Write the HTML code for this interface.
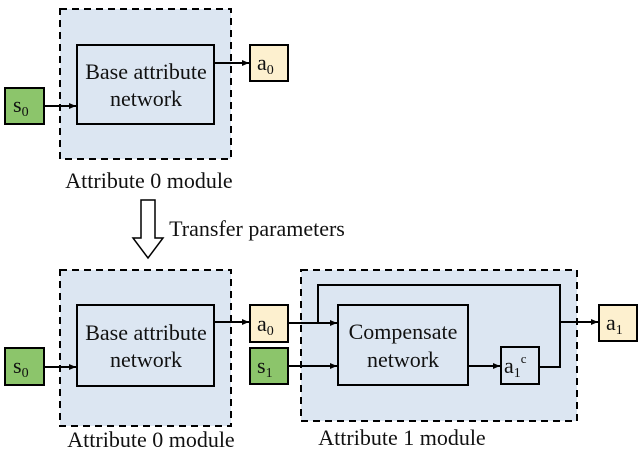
<!DOCTYPE html>
<html><head><style>
body{margin:0;background:#fff}
text{font-family:"Liberation Serif",serif;fill:#111}
</style></head><body>
<svg width="640" height="452" viewBox="0 0 640 452" xmlns="http://www.w3.org/2000/svg">
<defs><marker id="ar" markerWidth="8" markerHeight="8" refX="7" refY="4" orient="auto" markerUnits="userSpaceOnUse"><path d="M0,1 L7,4 L0,7 Z" fill="#000"/></marker></defs>
<g stroke="#000" stroke-width="2">
<rect x="60" y="9" width="171" height="150" fill="#dce6f2" stroke-dasharray="7,5"/>
<rect x="77" y="45" width="137" height="79" fill="#dce6f2"/>
<rect x="5" y="88" width="39" height="36" fill="#8cc56b"/>
<rect x="250" y="45" width="38" height="36" fill="#fdf0cf"/>
<line x1="44" y1="106" x2="76" y2="106" marker-end="url(#ar)"/>
<line x1="214" y1="63" x2="249" y2="63" marker-end="url(#ar)"/>
<rect x="60" y="270" width="171" height="156" fill="#dce6f2" stroke-dasharray="7,5"/>
<rect x="77" y="305" width="137" height="81" fill="#dce6f2"/>
<rect x="5" y="348" width="39" height="37" fill="#8cc56b"/>
<rect x="250" y="305" width="38" height="37" fill="#fdf0cf"/>
<rect x="250" y="348" width="38" height="36" fill="#8cc56b"/>
<line x1="44" y1="367" x2="76" y2="367" marker-end="url(#ar)"/>
<line x1="214" y1="322" x2="249" y2="322" marker-end="url(#ar)"/>
<rect x="301" y="270" width="276" height="151" fill="#dce6f2" stroke-dasharray="7,5"/>
<rect x="338" y="305" width="130" height="80" fill="#dce6f2"/>
<rect x="501" y="347" width="38" height="37" fill="#dce6f2"/>
<rect x="599" y="305" width="38" height="36" fill="#fdf0cf"/>
<line x1="288" y1="323" x2="337" y2="323" marker-end="url(#ar)"/>
<polyline points="318,323 318,285 560,285 560,367 539,367" fill="none"/>
<line x1="288" y1="366" x2="337" y2="366" marker-end="url(#ar)"/>
<line x1="468" y1="366" x2="500" y2="366" marker-end="url(#ar)"/>
<line x1="560" y1="322" x2="598" y2="322" marker-end="url(#ar)"/>
<path d="M141,200 H155 V238 H163 L148,258 L133,238 H141 Z" fill="#fff" stroke-width="1.5"/>
</g>
<g style="font-size:22px" text-anchor="middle">
<text x="146" y="79">Base attribute</text><text x="146" y="106">network</text>
<text x="146" y="340">Base attribute</text><text x="146" y="367">network</text>
<text x="403" y="339">Compensate</text><text x="403" y="367">network</text>
<text x="149" y="188">Attribute 0 module</text>
<text x="151" y="447">Attribute 0 module</text>
<text x="402" y="445">Attribute 1 module</text>
<text x="257" y="236">Transfer parameters</text>
</g>
<g style="font-size:22px">
<text x="13" y="112">s<tspan style="font-size:14px" dy="4">0</tspan></text>
<text x="257" y="70">a<tspan style="font-size:14px" dy="4">0</tspan></text>
<text x="13" y="373">s<tspan style="font-size:14px" dy="4">0</tspan></text>
<text x="257" y="331">a<tspan style="font-size:14px" dy="4">0</tspan></text>
<text x="257" y="373">s<tspan style="font-size:14px" dy="4">1</tspan></text>
<text x="606" y="330">a<tspan style="font-size:14px" dy="4">1</tspan></text>
<text x="504" y="373">a<tspan style="font-size:14px" dy="4">1</tspan><tspan style="font-size:13px" dy="-14">c</tspan></text>
</g>
</svg>
</body></html>
